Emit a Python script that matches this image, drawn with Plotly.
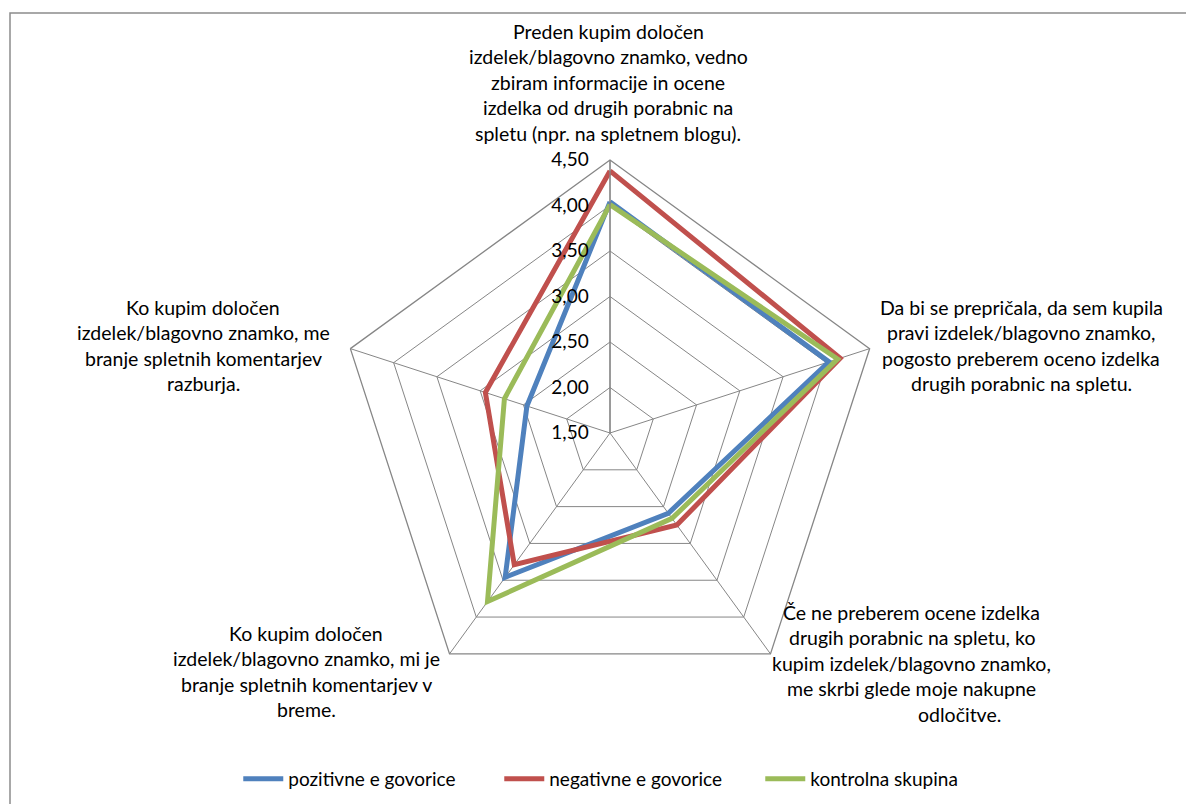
import plotly.graph_objects as go

# Survey statements (axis categories), in clockwise order from the top
categories = [
    "Preden kupim določen izdelek/blagovno znamko, vedno zbiram informacije in ocene izdelka od drugih porabnic na spletu (npr. na spletnem blogu).",
    "Da bi se prepričala, da sem kupila pravi izdelek/blagovno znamko, pogosto preberem oceno izdelka drugih porabnic na spletu.",
    "Če ne preberem ocene izdelka drugih porabnic na spletu, ko kupim izdelek/blagovno znamko, me skrbi glede moje nakupne odločitve.",
    "Ko kupim določen izdelek/blagovno znamko, mi je branje spletnih komentarjev v breme.",
    "Ko kupim določen izdelek/blagovno znamko, me branje spletnih komentarjev razburja.",
]

# Wrapped label lines for each statement
label_lines = [
    ["Preden kupim določen", "izdelek/blagovno znamko, vedno", "zbiram informacije in ocene",
     "izdelka od drugih porabnic na", "spletu (npr. na spletnem blogu)."],
    ["Da bi se prepričala, da sem kupila", "pravi izdelek/blagovno znamko,",
     "pogosto preberem oceno izdelka", "drugih porabnic na spletu."],
    ["Če ne preberem ocene izdelka", "drugih porabnic na spletu, ko",
     "kupim izdelek/blagovno znamko,", "me skrbi glede moje nakupne", "odločitve."],
    ["Ko kupim določen", "izdelek/blagovno znamko, mi je", "branje spletnih komentarjev v", "breme."],
    ["Ko kupim določen", "izdelek/blagovno znamko, me", "branje spletnih komentarjev", "razburja."],
]

series_names = ["pozitivne e govorice", "negativne e govorice", "kontrolna skupina"]
pozitivne = [4.04, 4.03, 2.59, 3.46, 2.46]
negativne = [4.38, 4.16, 2.75, 3.29, 2.94]
kontrolna = [4.01, 4.13, 2.66, 3.79, 2.72]

tick_vals = [1.5, 2.0, 2.5, 3.0, 3.5, 4.0, 4.5]
tick_text = ["1,50", "2,00", "2,50", "3,00", "3,50", "4,00", "4,50"]

colors = ["#4F81BD", "#C0504D", "#9BBB59"]
FONT = "Lato, 'Open Sans', sans-serif"
GRID = "#868686"

W, H = 1186, 804

fig = go.Figure()
for name, vals, col in zip(series_names, [pozitivne, negativne, kontrolna], colors):
    fig.add_trace(go.Scatterpolar(
        r=vals + vals[:1],
        theta=categories + categories[:1],
        mode="lines",
        name=name,
        line=dict(color=col, width=5),
        hoverinfo="skip",
    ))

# Polar area: centre (610, 433) px, outer radius 273 px
cx, cy, R = 610, 433, 273
fig.update_layout(
    width=W, height=H,
    margin=dict(l=0, r=0, t=0, b=0),
    paper_bgcolor="white",
    font=dict(family=FONT, size=19, color="#000000"),
    polar=dict(
        domain=dict(x=[(cx - R) / W, (cx + R) / W], y=[(H - cy - R) / H, (H - cy + R) / H]),
        bgcolor="white",
        gridshape="linear",
        angularaxis=dict(
            rotation=90, direction="clockwise",
            showticklabels=False, ticks="",
            showline=True, linecolor=GRID, linewidth=1.3,
            showgrid=True, gridcolor=GRID, gridwidth=1.3,
        ),
        radialaxis=dict(
            range=[1.5, 4.5], angle=90, side="counterclockwise", tickangle=90,
            tickvals=tick_vals, ticktext=tick_text,
            tickfont=dict(family=FONT, size=19, color="#000000"),
            ticks="outside", ticklen=14, tickcolor="rgba(0,0,0,0)",
            showline=True, linecolor=GRID, linewidth=1.3,
            showgrid=True, gridcolor=GRID, gridwidth=1.3,
        ),
    ),
    legend=dict(
        orientation="h", x=0.531, xanchor="center", y=(H - 779) / H, yanchor="middle",
        font=dict(family=FONT, size=19, color="#000000"),
        bgcolor="rgba(0,0,0,0)", itemwidth=40, entrywidth=206,
    ),
    showlegend=True,
)

# Statement labels: centre x and y of the first line, with per-line x overrides
label_pos = [(608, 31), (1021, 307), (912, 612), (306, 633), (203, 307)]
line_x_override = {(2, 4): 959}
LINE_STEP = 25.5
for i, (lines, (lx, ly)) in enumerate(zip(label_lines, label_pos)):
    for j, line in enumerate(lines):
        x = line_x_override.get((i, j), lx)
        fig.add_annotation(
            x=x / W, y=1 - (ly + j * LINE_STEP) / H, xref="paper", yref="paper",
            xanchor="center", yanchor="middle",
            text=line, showarrow=False,
            font=dict(family=FONT, size=19.5, color="#000000"),
        )

# Chart-area border (open on the right and bottom)
fig.add_shape(type="rect", xref="paper", yref="paper",
              x0=10 / W, y0=-0.05, x1=1.05, y1=1 - 13 / H,
              line=dict(color="#8C8C8C", width=1.5))

fig.write_html("out.html")
